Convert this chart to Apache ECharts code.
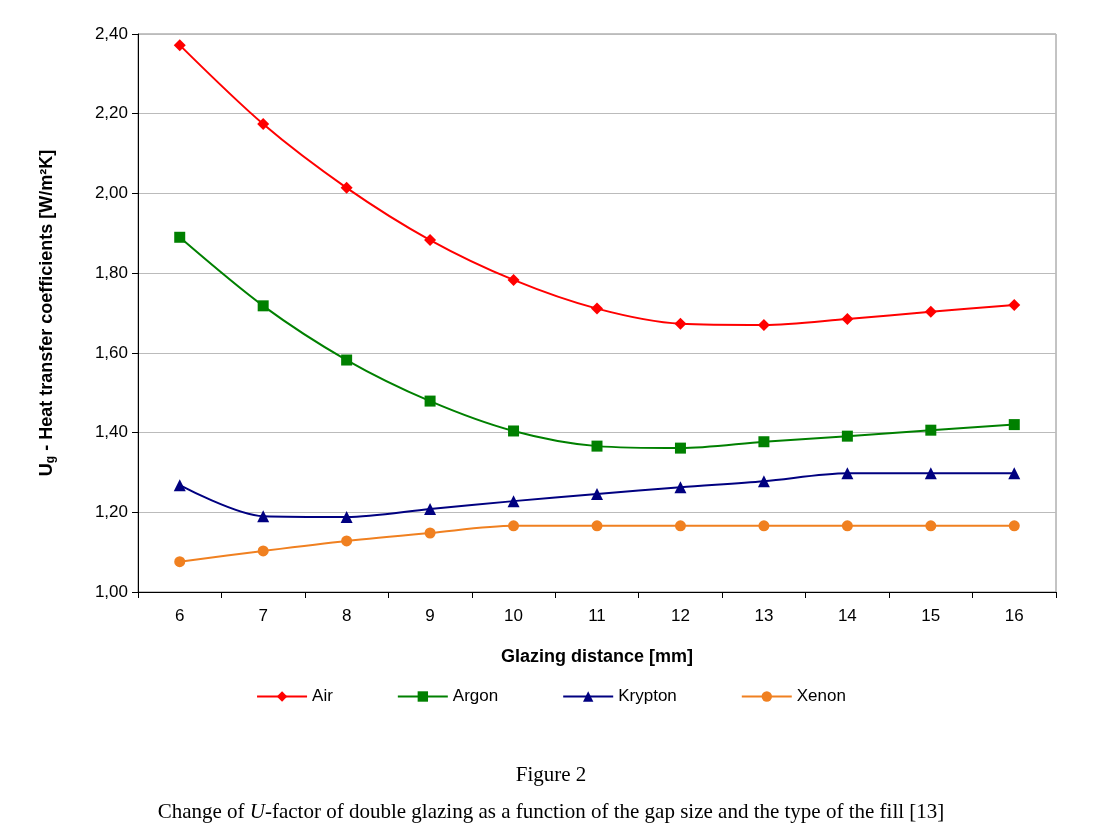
<!DOCTYPE html>
<html><head><meta charset="utf-8">
<script src="https://cdn.jsdelivr.net/npm/echarts@6/dist/echarts.min.js"></script>
<style>html,body{margin:0;padding:0;background:#fff}#c{width:1102px;height:839px}</style>
</head><body><div id="c"></div>
<script>
const categories=['6','7','8','9','10','11','12','13','14','15','16'];
const air=[2.372,2.174,2.014,1.883,1.783,1.711,1.673,1.670,1.685,1.703,1.720];
const argon=[1.890,1.718,1.582,1.479,1.404,1.366,1.361,1.377,1.391,1.406,1.420];
const krypton=[1.268,1.190,1.188,1.208,1.228,1.246,1.263,1.278,1.298,1.298,1.298];
const xenon=[1.076,1.103,1.128,1.148,1.166,1.166,1.166,1.166,1.166,1.166,1.166];
const chart=echarts.init(document.getElementById('c'));
const ff='Liberation Sans, Arial, sans-serif';
function s(name,data,color,symbol,size){return{name,type:'line',data,symbol,symbolSize:size,showAllSymbol:true,
 lineStyle:{color,width:2},itemStyle:{color},smooth:0.3};}
chart.setOption({
 animation:false,
 grid:{left:138,right:46,top:34,bottom:247,show:true,borderColor:'#888',borderWidth:1},
 xAxis:{type:'category',data:categories,boundaryGap:true,
  name:'Glazing distance [mm]',nameLocation:'middle',nameGap:56,
  nameTextStyle:{fontFamily:ff,fontSize:18,fontWeight:'bold',color:'#000'},
  axisLine:{lineStyle:{color:'#000'}},axisTick:{show:true,alignWithLabel:false,length:6,lineStyle:{color:'#000'}},
  axisLabel:{fontFamily:ff,fontSize:17,color:'#000',margin:16}},
 yAxis:{type:'value',min:1,max:2.4,interval:0.2,
  axisLine:{show:true,lineStyle:{color:'#000'}},axisTick:{show:true,length:6,inside:false,lineStyle:{color:'#000'}},
  splitLine:{lineStyle:{color:'#bbb'}},
  axisLabel:{fontFamily:ff,fontSize:17,color:'#000',margin:10,formatter:v=>v.toFixed(2).replace('.',',')}},
 legend:{bottom:129,left:'center',itemGap:64,itemWidth:50,itemHeight:13,
  textStyle:{fontFamily:ff,fontSize:17,color:'#000'},
  data:['Air','Argon','Krypton','Xenon']},
 graphic:[
  {type:'text',left:'center',top:765,style:{text:'Figure 2',font:'21px "Liberation Serif", serif',fill:'#000'}},
  {type:'text',left:'center',top:802,style:{text:'Change of {i|U}-factor of double glazing as a function of the gap size and the type of the fill [13]',
    font:'21px "Liberation Serif", serif',fill:'#000',rich:{i:{font:'italic 21px "Liberation Serif", serif'}}}},
  {type:'text',x:47,y:313,rotation:Math.PI/2,style:{text:'U{sub|g} - Heat transfer coefficients [W/m²K]',
    font:'bold 18px '+ff,fill:'#000',align:'center',verticalAlign:'middle',
    rich:{sub:{font:'bold 12px '+ff,verticalAlign:'bottom',padding:[8,0,0,0]}}}}
 ],
 series:[s('Air',air,'#ff0000','diamond',12),s('Argon',argon,'#008000','rect',11),
  s('Krypton',krypton,'#000080','triangle',12),s('Xenon',xenon,'#f08020','circle',11)]
});
</script></body></html>
